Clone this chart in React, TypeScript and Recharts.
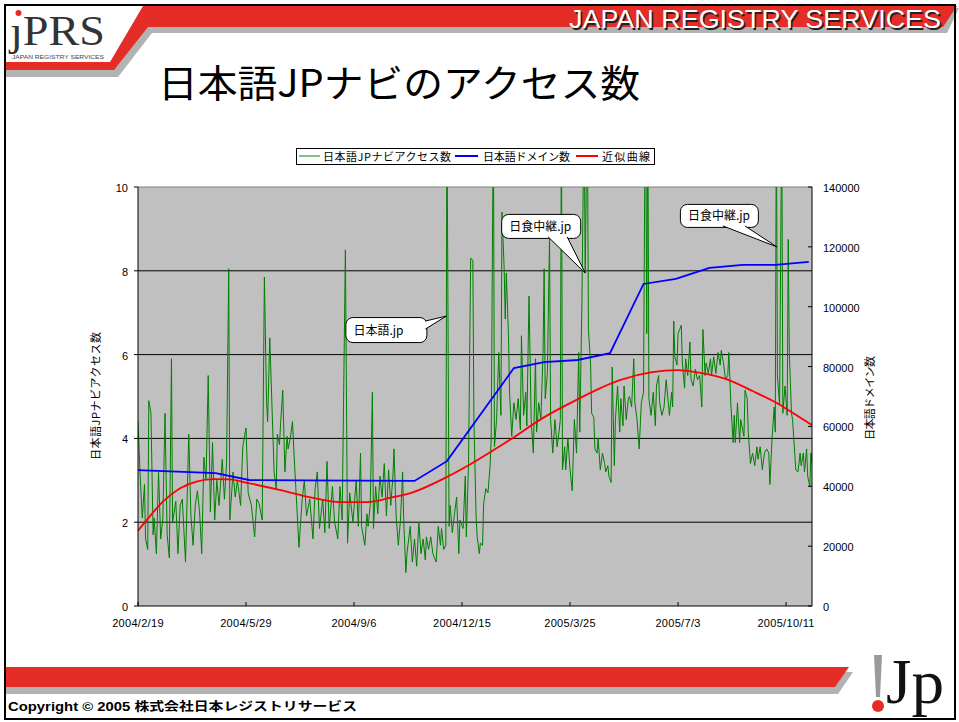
import React from 'react';
import { ComposedChart, Line, XAxis, YAxis, CartesianGrid, ReferenceLine, ReferenceDot } from 'recharts';

// ---------- data ----------
const tickDays = [0, 100, 200, 300, 400, 500, 600];
const tickLabels = ['2004/2/19', '2004/5/29', '2004/9/6', '2004/12/15', '2005/3/25', '2005/7/3', '2005/10/11'];
const leftTicks = [0, 2, 4, 6, 8, 10];
const rightTicks = [0, 20000, 40000, 60000, 80000, 100000, 120000, 140000];
const gridValues = [2, 4, 6, 8];

// 日本語JPナビアクセス数 : [day since 2004/2/19, value]
const accessPoints: number[][] = [
  [0,4.4],[2,3.1],[4,2.1],[6,2.9],[7,1.6],[9,1.35],[10,4.9],[12,4.6],[14,1.7],[15,2.1],[17,1.25],[19,3.2],[21,1.6],[23,2.1],[25,4.6],[27,1.7],[29,1.15],[31,5.9],[32,2.0],[35,2.5],[37,1.25],[39,2.4],[41,2.55],[44,1.05],[47,4.1],[49,2.15],[51,1.45],[53,2.4],[55,2.75],[57,2.25],[59,1.25],[61,3.55],[63,3.0],[65,5.5],[67,2.25],[69,3.9],[71,2.05],[73,3.0],[75,2.4],[78,3.5],[80,2.55],[82,3.4],[84,8.05],[85,2.05],[88,3.2],[90,2.6],[92,3.0],[95,2.4],[97,3.8],[100,4.25],[102,2.7],[105,2.4],[108,1.65],[110,2.55],[112,2.45],[115,2.05],[117,7.85],[119,4.9],[120,4.4],[122,6.4],[125,4.0],[126,3.2],[128,2.8],[129,4.1],[131,3.85],[132,4.35],[134,5.15],[136,3.2],[138,4.05],[139,3.75],[141,4.0],[143,4.4],[145,3.35],[147,2.4],[149,1.4],[152,2.55],[154,3.0],[156,2.15],[159,2.55],[162,1.6],[164,2.8],[166,3.2],[168,1.85],[171,2.55],[173,1.75],[175,3.45],[177,1.85],[180,2.85],[182,2.0],[185,1.6],[187,2.85],[189,2.05],[192,8.5],[194,1.5],[196,2.7],[199,2.0],[202,3.0],[204,1.9],
  [206,3.65],[207,1.9],[210,1.45],[212,2.2],[213,1.9],[215,2.4],[217,5.1],[218,1.85],[220,2.85],[222,2.2],[224,3.1],[226,2.6],[228,3.4],[230,2.15],[232,3.25],[234,2.4],[236,3.1],[237,3.75],[239,2.15],[241,1.45],[243,2.05],[245,3.2],[246,2.05],[248,0.8],[249,1.25],[252,1.9],[254,1.05],[256,1.6],[258,0.95],[260,2.0],[262,1.25],[264,1.6],[266,1.1],[267,1.65],[269,1.35],[271,1.65],[273,1.25],[276,1.05],[278,1.9],[280,1.45],[281,1.85],[283,1.35],[285,1.45],[286,12],[288,1.9],[289,2.4],[291,1.75],[293,2.2],[295,2.6],[297,1.25],[298,2.05],[301,1.85],[303,3.1],[304,1.65],[306,3.4],[308,8.3],[310,8.25],[311,4.45],[313,2.15],[314,1.65],[316,1.25],[317,1.5],[319,1.45],[320,2.45],[322,2.8],[324,2.7],[326,3.35],[327,4.0],[329,12],[330,3.8],[332,4.45],[334,6.05],[336,4.55],[337,9.4],[339,8.05],[340,6.85],[341,7.95],[343,6.45],[344,5.1],[346,4.05],[348,4.85],[350,4.45],[352,4.95],[354,4.2],[355,6.45],[357,4.55],[359,5.1],[360,4.3],[362,7.4],[364,4.45],[366,3.65],[368,5.9],[369,4.15],[371,4.85],[373,4.45],[375,6.05],[376,8.05],[377,4.95],[379,5.55],[381,8.75],[382,4.45],[384,3.65],[386,4.45],[388,3.8],[390,4.2],[391,4.45],[392,12],[393,3.25],[395,3.8],[396,3.25],[398,4.0],[400,3.25],[402,2.75],[404,4.45],[406,3.65],[408,6.05],[409,4.15],[411,7.25],[413,12],[414,7.95],[416,12],[417,6.6],
  [419,5.8],[420,4.6],[422,4.5],[423,3.75],[425,3.65],[426,4.0],[428,3.25],[430,3.65],[432,3.4],[433,3.2],[435,3.35],[436,3.1],[438,2.95],[439,5.7],[441,3.35],[442,4.45],[444,5.25],[446,4.15],[447,4.95],[449,4.3],[450,5.25],[452,4.45],[454,4.95],[455,5.0],[457,4.75],[459,5.9],[460,4.85],[462,4.45],[464,3.75],[466,4.85],[468,5.1],[469,9.5],[470,12],[471,6.5],[472,12],[473,4.95],[475,4.55],[477,5.1],[479,4.3],[480,5.25],[482,5.5],[483,4.85],[485,4.55],[487,4.75],[489,5.4],[492,4.55],[494,5.1],[495,4.75],[496,6.8],[497,5.95],[499,5.75],[500,6.5],[503,6.7],[504,5.8],[506,5.2],[507,5.9],[509,5.5],[511,6.3],[512,5.4],[514,5.25],[516,5.65],[518,5.4],[520,5.5],[522,4.75],[523,6.6],[525,5.5],[526,5.8],[528,5.55],[530,5.9],[531,5.5],[533,5.95],[535,5.55],[537,6.05],[539,5.75],[540,6.1],[542,5.8],[544,5.4],[546,5.5],[547,6.05],[549,4.75],[551,3.9],[552,4.55],[553,3.9],[555,4.85],[557,3.9],[558,4.45],[561,4.05],[562,5.15],[564,4.95],[565,4.15],[567,3.4],[569,3.65],[571,3.35],[573,3.8],[574,3.5],[576,3.8],[578,3.25],[580,3.65],[582,3.75],[584,3.65],[585,2.9],[587,4.0],[589,4.75],[590,4.15],[591,12],[592,5.5],[594,4.8],[596,12],[597,4.6],[599,5.25],[601,4.55],[602,8.75],[603,6.05],[605,4.6],[606,4.45],[608,3.65],[609,3.25],[611,3.2],[613,3.65],[614,3.35],[616,3.65],[617,3.2],[619,3.75],[620,3.1],[622,2.85],[623,3.65],[624,3.4],
];

// 日本語ドメイン数 (right axis)
const domainPoints: number[][] = [
  [0,45400],[72,44400],[103,42100],[256,41800],[286,48400],[348,79500],[376,81500],[407,82200],[437,84500],[468,107600],[498,109300],[529,113000],[560,114000],[590,114000],[621,115000],
];

// 近似曲線 (left axis)
const trendPoints: number[][] = [
  [0,1.8],[8,2.05],[23,2.49],[39,2.81],[54,2.97],[70,3.03],[85,3.02],[101,2.94],[131,2.77],[162,2.58],[187,2.48],[212,2.48],[233,2.58],[255,2.72],[286,3.08],[314,3.48],[344,3.96],[375,4.49],[406,4.92],[446,5.39],[476,5.58],[499,5.63],[522,5.56],[544,5.42],[569,5.13],[593,4.82],[606,4.61],[624,4.32],
];

const calloutTexts = ['日本語.jp', '日食中継.jp', '日食中継.jp'];
const calloutDays = [285.5, 414, 591.5];
const calloutValues = [6.92, 7.95, 8.57];

// ---------- layout / style ----------
const FONT = '"Liberation Sans", Arial, "Noto Sans CJK JP", sans-serif';
const JFONT = '"Noto Sans CJK JP", "Liberation Sans", sans-serif';
const calloutLayout = [
  { box: [-101, 1, 81, 25], base: [[-21, 5], [-21, 13]] },
  { box: [-84, -59, 79, 24], base: [[-37, -36], [-18, -36]] },
  { box: [-97, -43, 78, 23], base: [[-54, -21], [-32, -21]] },
];

const accessData = accessPoints.map(([d, v]) => ({ d, v }));
const domainData = domainPoints.map(([d, v]) => ({ d, v }));
const trendData = trendPoints.map(([d, v]) => ({ d, v }));

function Callout(props: any) {
  const { cx, cy, idx } = props;
  const L = calloutLayout[idx];
  const [bx, by, bw, bh] = L.box;
  const b1 = L.base[0];
  const b2 = L.base[1];
  return (
    <g>
      <rect x={cx + bx + 0.5} y={cy + by + 0.5} width={bw} height={bh} rx={7} ry={7} fill="#fff" stroke="#000" strokeWidth={1} />
      <polygon points={`${cx + b1[0]},${cy + b1[1]} ${cx},${cy} ${cx + b2[0]},${cy + b2[1]}`} fill="#fff" stroke="none" />
      <polyline points={`${cx + b1[0]},${cy + b1[1]} ${cx},${cy} ${cx + b2[0]},${cy + b2[1]}`} fill="none" stroke="#000" strokeWidth={1} />
      <text x={cx + bx + 8} y={cy + by + bh / 2 + 5} fontSize={12} fontFamily={JFONT} fill="#000">{calloutTexts[idx]}</text>
    </g>
  );
}

const LeftTick = (p: any) => (
  <g>
    <line x1={p.x - 4} x2={p.x} y1={p.y} y2={p.y} stroke="#000" />
    <text x={p.x - 10} y={p.y + 5} textAnchor="end" fontSize={11} fontFamily={FONT} fill="#000">{p.payload.value}</text>
  </g>
);
const RightTick = (p: any) => (
  <g>
    <line x1={p.x - 4} x2={p.x} y1={p.y} y2={p.y} stroke="#000" />
    <text x={p.x + 11} y={p.y + 5} textAnchor="start" fontSize={11} fontFamily={FONT} fill="#000">{p.payload.value}</text>
  </g>
);
const BottomTick = (p: any) => {
  const i = tickDays.indexOf(p.payload.value);
  return (
    <g>
      <line x1={p.x} x2={p.x} y1={p.y - 4} y2={p.y} stroke="#000" />
      <text x={p.x} y={p.y + 21} textAnchor="middle" fontSize={11} letterSpacing={0.3} fontFamily={FONT} fill="#000">{tickLabels[i]}</text>
    </g>
  );
};

function Decor() {
  return (
    <svg width={959} height={722} style={{ position: 'absolute', left: 0, top: 0 }}>
      <rect x={0} y={0} width={959} height={722} fill="#fff" />
      {/* header bands */}
      <polygon points="6,69 114,69 148,26 959,8 947,33 152,33 118,77 6,77" fill="#b3b3b3" />
      <polygon points="6,62 110,62 143,6 957,6 943,27 148,27 114,70 6,70" fill="#e52d27" />
      <text x={941} y={28} textAnchor="end" fontSize={26} fontFamily={FONT} fill="#222" textLength={372} lengthAdjust="spacingAndGlyphs" transform="translate(1.5,1.5)">JAPAN REGISTRY SERVICES</text>
      <text x={941} y={28} textAnchor="end" fontSize={26} fontFamily={FONT} fill="#fff" textLength={372} lengthAdjust="spacingAndGlyphs">JAPAN REGISTRY SERVICES</text>
      {/* jPRS logo */}
      <text x={10} y={45} fontSize={43} fontFamily='"Liberation Serif", "DejaVu Serif", serif' fill="#333" textLength={95} lengthAdjust="spacingAndGlyphs">ȷPRS</text>
      <circle cx={18.5} cy={13} r={3} fill="#e52d27" />
      <text x={12} y={58.5} fontSize={4.5} fontFamily={FONT} fill="#444" textLength={92} lengthAdjust="spacingAndGlyphs">JAPAN REGISTRY SERVICES</text>
      {/* title */}
      <text x={158} y={97} fontSize={38} fontFamily={JFONT} fill="#000" textLength={482} lengthAdjust="spacingAndGlyphs">日本語JPナビのアクセス数</text>
      {/* legend */}
      <rect x={296.5} y={148.5} width={358} height={16} fill="#fff" stroke="#000" />
      <line x1={299} x2={320} y1={156} y2={156} stroke="#008000" strokeWidth={1} />
      <text x={323} y={160.5} fontSize={11} fontFamily={JFONT} fill="#000" textLength={128}>日本語JPナビアクセス数</text>
      <line x1={455} x2={478} y1={156} y2={156} stroke="#0000ff" strokeWidth={2} />
      <text x={483} y={160.5} fontSize={11} fontFamily={JFONT} fill="#000" textLength={87}>日本語ドメイン数</text>
      <line x1={576} x2={598} y1={156} y2={156} stroke="#ff0000" strokeWidth={2} />
      <text x={602} y={160.5} fontSize={11} fontFamily={JFONT} fill="#000" textLength={48}>近似曲線</text>
      {/* axis titles */}
      <text x={0} y={0} transform="translate(100,396) rotate(-90)" textAnchor="middle" fontSize={11} fontFamily={JFONT} fill="#000" textLength={128}>日本語JPナビアクセス数</text>
      <text x={0} y={0} transform="translate(874,398) rotate(-90)" textAnchor="middle" fontSize={11} fontFamily={JFONT} fill="#000" textLength={84}>日本語ドメイン数</text>
      {/* footer */}
      <polygon points="6,672 853,672 838,694 6,694" fill="#b3b3b3" />
      <polygon points="6,667 849,667 835,687 6,687" fill="#e52d27" />
      <text x={8} y={711} fontSize={12} fontWeight="bold" fontFamily={'"Liberation Sans Narrow", "Liberation Sans", "Noto Sans CJK JP", sans-serif'} fill="#000" textLength={349} lengthAdjust="spacingAndGlyphs">Copyright © 2005 株式会社日本レジストリサービス</text>
      {/* !Jp logo */}
      <polygon points="874,655 882,655 880,697 876,697" fill="#9a9a9a" />
      <circle cx={878} cy={706} r={6} fill="#e52d27" />
      <text x={886} y={703} fontSize={64} fontFamily='"Liberation Serif", "DejaVu Serif", serif' fill="#111" textLength={58} lengthAdjust="spacingAndGlyphs">Jp</text>
      {/* frame */}
      <rect x={5} y={5} width={950} height={714} fill="none" stroke="#000" strokeWidth={2} />
    </svg>
  );
}

export default function App() {
  return (
    <div style={{ position: 'absolute', left: 0, top: 0, width: 959, height: 722, background: '#fff' }}>
      <Decor />
      <div style={{ position: 'absolute', left: 0, top: 0 }}>
        <ComposedChart width={959} height={722} margin={{ top: 187, right: 0, bottom: 0, left: 0 }}>
          <CartesianGrid yAxisId="left" horizontal={false} vertical={false} fill="#c0c0c0" fillOpacity={1} stroke="none" />
          <XAxis type="number" dataKey="d" domain={[0, 624]} ticks={tickDays} interval={0} allowDataOverflow height={116}
            tickSize={0} tickMargin={0} tickLine={false} tick={BottomTick} axisLine={{ stroke: '#000' }} />
          <YAxis yAxisId="left" type="number" domain={[0, 10]} ticks={leftTicks} interval={0} allowDataOverflow width={138}
            tickSize={0} tickMargin={0} tickLine={false} tick={LeftTick} axisLine={{ stroke: '#000' }} />
          <YAxis yAxisId="right" orientation="right" type="number" domain={[0, 140000]} ticks={rightTicks} interval={0} allowDataOverflow width={147}
            tickSize={0} tickMargin={0} tickLine={false} tick={RightTick} axisLine={{ stroke: '#000' }} />
          {gridValues.map((v) => (
            <ReferenceLine key={v} yAxisId="left" y={v} stroke="#000" strokeWidth={1} />
          ))}
          <ReferenceLine yAxisId="left" y={10} stroke="#808080" strokeWidth={1} />
          <Line yAxisId="left" data={accessData} dataKey="v" type="linear" stroke="#008000" strokeWidth={1} dot={false} activeDot={false} isAnimationActive={false} />
          <Line yAxisId="right" data={domainData} dataKey="v" type="linear" stroke="#0000ff" strokeWidth={1.8} dot={false} activeDot={false} isAnimationActive={false} />
          <Line yAxisId="left" data={trendData} dataKey="v" type="monotone" stroke="#ff0000" strokeWidth={1.8} dot={false} activeDot={false} isAnimationActive={false} />
          {calloutDays.map((d, i) => (
            <ReferenceDot key={i} yAxisId="left" x={d} y={calloutValues[i]} r={0} ifOverflow="visible"
              shape={(p: any) => <Callout cx={p.cx} cy={p.cy} idx={i} />} />
          ))}
        </ComposedChart>
      </div>
    </div>
  );
}
